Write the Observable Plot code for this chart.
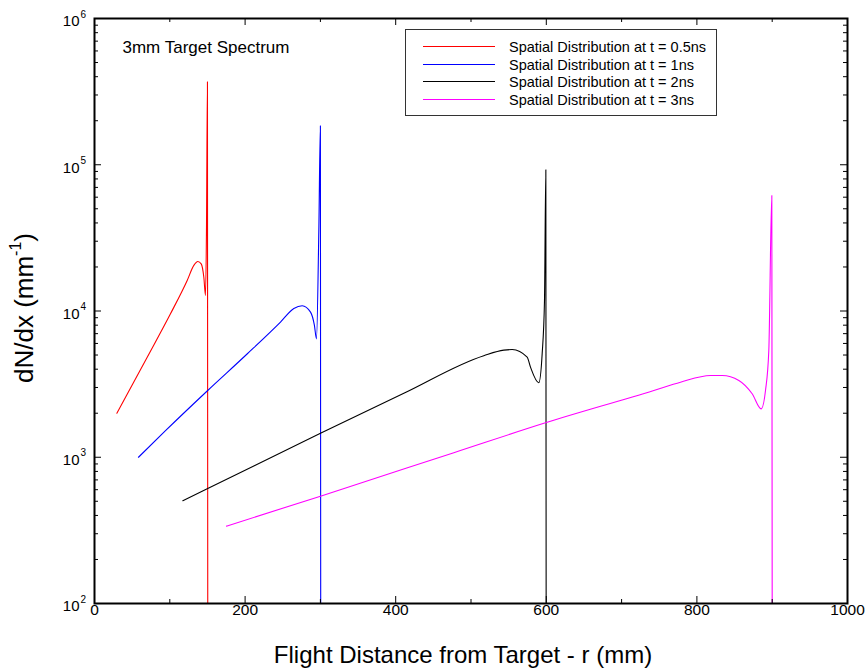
<!DOCTYPE html>
<html><head><meta charset="utf-8">
<script src="https://cdn.jsdelivr.net/npm/d3@7"></script>
<script src="https://cdn.jsdelivr.net/npm/@observablehq/plot@0.6"></script>
<style>
body{margin:0;background:#fff;font-family:"Liberation Sans",Arial,sans-serif;}
#wrap{position:relative;width:866px;height:670px;overflow:hidden;}
#wrap svg{position:absolute;left:0;top:0;}
.legend{position:absolute;left:405px;top:29px;width:312px;height:87px;border:1px solid #333;background:#fff;box-sizing:border-box;}
.legend .row{position:absolute;left:0;height:18px;width:100%;}
.legend .sw{position:absolute;left:17px;top:8px;width:72px;height:0;border-top:1px solid;}
.legend .lab{position:absolute;left:103px;top:0;font-size:14.5px;line-height:18px;color:#000;white-space:nowrap;}
.ytitle{position:absolute;left:-126px;top:293px;width:300px;height:30px;line-height:30px;text-align:center;font-size:26px;transform:rotate(-90deg);white-space:nowrap;}
.ytitle sup{font-size:16px;position:relative;top:-3px;vertical-align:top;line-height:20px;}
</style></head><body><div id="wrap"></div>
<script>
// ---- data ----
const seriesNames = [
  "Spatial Distribution at t = 0.5ns",
  "Spatial Distribution at t = 1ns",
  "Spatial Distribution at t = 2ns",
  "Spatial Distribution at t = 3ns"
];
const seriesColors = ["#ff0000", "#0000ff", "#000000", "#ff00ff"];

const x05 = [29.7, 70, 100.9, 123.1, 131.9, 137.2, 141.7, 145.2, 147.4, 148.7, 150, 150.4];
const y05 = [2000, 4830, 9570, 16170, 20500, 21800, 21000, 17000, 12760, 35500, 369000, 100];

const x1 = [58.4, 94.3, 150, 203, 247, 264.7, 275.8, 286.9, 292, 294.8, 297.9, 300, 300.4];
const y1 = [1000, 1520, 2850, 5100, 8400, 10400, 10850, 9820, 8000, 6450, 35500, 185000, 100];

const x2 = [117.3, 149.7, 300.1, 410.8, 517, 543.6, 554.7, 574.6, 579, 590, 594.5, 597.6, 599.4, 599.8];
const y2 = [504, 608, 1460, 2740, 4950, 5400, 5450, 4830, 4130, 3230, 5090, 11800, 92300, 100];

const x3 = [175.3, 300.1, 477.2, 598.9, 742.8, 778.2, 818.1, 833.6, 855.7, 873.4, 885.4, 891.1, 895.5, 899.5, 900];
const y3 = [338, 542, 1075, 1720, 2860, 3260, 3620, 3620, 3350, 2716, 2143, 2860, 5370, 61600, 100];

const xTickValues = [0, 200, 400, 600, 800, 1000];
const xMinorTicks = [100, 300, 500, 700, 900];
const yTickValues = [1e2, 1e3, 1e4, 1e5, 1e6];
const yMinorMantissas = [2, 3, 4, 5, 6, 7, 8, 9];

const titleText = "3mm Target Spectrum";
const xTitle = "Flight Distance from Target - r (mm)";

// ---- build ----
const seriesX = [x05, x1, x2, x3];
const seriesY = [y05, y1, y2, y3];
const rows = seriesNames.flatMap((name, i) => seriesX[i].map((x, j) => ({series: name, x, y: seriesY[i][j]})));
const yMinorTicks = yTickValues.slice(0, -1).flatMap(d => yMinorMantissas.map(m => m * d));

const W = 866, H = 670, mL = 94, mR = 19, mT = 18, mB = 67;
const fw = W - mL - mR, fh = H - mT - mB;
const majorLen = 7, minorLen = 4;
const font = "Liberation Sans, Arial, sans-serif";

const chart = Plot.plot({
  width: W, height: H,
  marginLeft: mL, marginRight: mR, marginTop: mT, marginBottom: mB,
  style: {fontFamily: font, background: "#fff", color: "#000", overflow: "visible"},
  x: {domain: [0, 1000], axis: null},
  y: {type: "log", domain: [100, 1e6], axis: null},
  color: {domain: seriesNames, range: seriesColors},
  marks: [
    Plot.line(rows, {x: "x", y: "y", z: "series", stroke: "series", strokeWidth: 1.1, curve: "monotone-x", clip: true}),
    // ticks (inward)
    Plot.tickX(xTickValues, {x: d => d, insetTop: fh - majorLen, stroke: "#000"}),
    Plot.tickX(xTickValues, {x: d => d, insetBottom: fh - majorLen, stroke: "#000"}),
    Plot.tickX(xMinorTicks, {x: d => d, insetTop: fh - minorLen, stroke: "#000"}),
    Plot.tickX(xMinorTicks, {x: d => d, insetBottom: fh - minorLen, stroke: "#000"}),
    Plot.tickY(yTickValues, {y: d => d, insetRight: fw - majorLen, stroke: "#000"}),
    Plot.tickY(yTickValues, {y: d => d, insetLeft: fw - majorLen, stroke: "#000"}),
    Plot.tickY(yMinorTicks, {y: d => d, insetRight: fw - minorLen, stroke: "#000"}),
    Plot.tickY(yMinorTicks, {y: d => d, insetLeft: fw - minorLen, stroke: "#000"}),
    Plot.frame({stroke: "#000", strokeWidth: 2}),
    // tick labels
    Plot.text(xTickValues, {x: d => d, text: d => String(d), frameAnchor: "bottom", dy: 11, fontSize: 15.5, fill: "#000"}),
    Plot.text(yTickValues, {y: d => d, text: () => "10", frameAnchor: "left", textAnchor: "end", dx: -15, dy: 3, fontSize: 15, fill: "#000"}),
    Plot.text(yTickValues, {y: d => d, text: d => String(Math.round(Math.log10(d))), frameAnchor: "left", textAnchor: "start", dx: -14, dy: -4, fontSize: 10, fill: "#000"}),
    // annotation and x title
    Plot.text([titleText], {text: d => d, frameAnchor: "top-left", textAnchor: "start", lineAnchor: "middle", dx: 28, dy: 29, fontSize: 17, fill: "#000"}),
    Plot.text([xTitle], {text: d => d, frameAnchor: "bottom", lineAnchor: "middle", dx: -8, dy: 52, fontSize: 24, fill: "#000"})
  ]
});

const wrap = document.getElementById("wrap");
wrap.appendChild(chart);

// y title
const yt = document.createElement("div");
yt.className = "ytitle";
yt.innerHTML = "dN/dx (mm<sup>-1</sup>)";
wrap.appendChild(yt);

// legend
const leg = document.createElement("div");
leg.className = "legend";
seriesNames.forEach((name, i) => {
  const r = document.createElement("div");
  r.className = "row";
  r.style.top = (8 + i * 17.6) + "px";
  const sw = document.createElement("div");
  sw.className = "sw";
  sw.style.borderTopColor = seriesColors[i];
  const lab = document.createElement("div");
  lab.className = "lab";
  lab.textContent = name;
  r.appendChild(sw); r.appendChild(lab);
  leg.appendChild(r);
});
wrap.appendChild(leg);
</script>
</body></html>
